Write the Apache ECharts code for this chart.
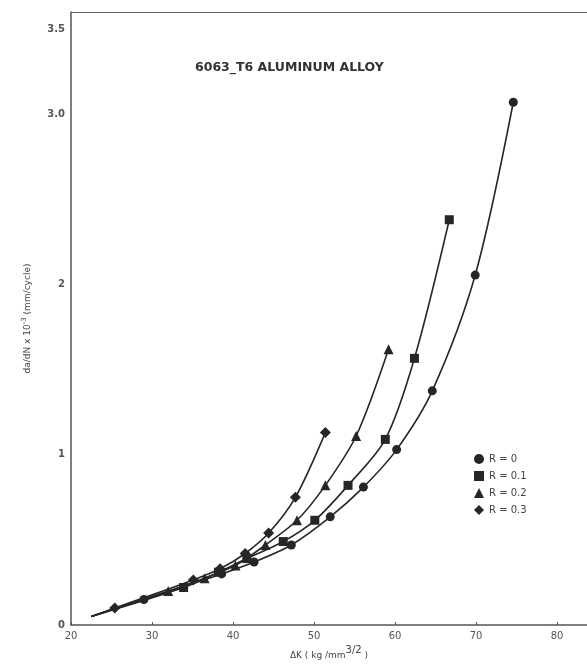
<!DOCTYPE html>
<html>
<head>
<meta charset="utf-8">
<script src="https://cdn.jsdelivr.net/npm/echarts@6/dist/echarts.min.js"></script>
<style>html,body{margin:0;padding:0;background:#fff}#c{width:587px;height:666px}</style>
</head>
<body>
<div id="c"></div>
<script>
// ---- data ----
var seriesNames = ['R = 0', 'R = 0.1', 'R = 0.2', 'R = 0.3'];
var commonStart = [22.5, 0.05];
var r0  = [[29.0,0.15],[38.6,0.30],[42.6,0.37],[47.2,0.47],[52.0,0.635],[56.1,0.81],[60.2,1.03],[64.6,1.375],[69.9,2.055],[74.6,3.07]];
var r01 = [[33.9,0.22],[38.2,0.31],[41.7,0.39],[46.2,0.49],[50.1,0.615],[54.2,0.82],[58.8,1.09],[62.4,1.566],[66.7,2.38]];
var r02 = [[32.0,0.20],[36.5,0.275],[40.3,0.35],[44.0,0.47],[47.9,0.615],[51.4,0.82],[55.2,1.11],[59.2,1.62]];
var r03 = [[25.4,0.10],[35.1,0.265],[38.4,0.33],[41.5,0.42],[44.4,0.54],[47.7,0.75],[51.4,1.13]];
var yTickLabels = {0:'0', 1:'1', 2:'2', 3:'3.0', 3.5:'3.5'};
var titleText = '6063_T6 ALUMINUM ALLOY';

var ink = '#262626';
var symbols = ['circle', 'rect', 'triangle', 'diamond'];
var sizes = [9, 9, 10, 11];
var allData = [r0, r01, r02, r03];

var chart = echarts.init(document.getElementById('c'), null, {renderer: 'canvas'});
var series = allData.map(function (d, i) {
  var pts = [{value: commonStart, symbol: 'none'}].concat(d.map(function (p) { return {value: p}; }));
  return {
    name: seriesNames[i],
    type: 'line',
    data: pts,
    smooth: 0.3,
    symbol: symbols[i],
    symbolSize: sizes[i],
    showAllSymbol: true,
    lineStyle: {color: ink, width: 1.6},
    itemStyle: {color: ink, borderWidth: 0},
    emphasis: {disabled: true},
    animation: false,
    z: 3
  };
});

chart.setOption({
  backgroundColor: '#fff',
  animation: false,
  title: {
    text: titleText,
    left: 190, top: 56,
    textStyle: {fontFamily: 'DejaVu Sans', fontSize: 12.5, fontWeight: 'bold', color: '#333'}
  },
  legend: {
    orient: 'vertical',
    left: 469, top: 449,
    itemWidth: 10, itemHeight: 10, itemGap: 7,
    textStyle: {fontFamily: 'DejaVu Sans', fontSize: 10, color: '#444'},
    data: seriesNames.map(function (n, i) { return {name: n, icon: symbols[i], itemStyle: {color: ink}}; })
  },
  grid: {left: 71, right: 0, top: 12, bottom: 41, containLabel: false},
  xAxis: [{
    type: 'value', min: 20, max: 83.7, interval: 10, position: 'bottom',
    axisLine: {show: true, lineStyle: {color: '#555', width: 1.5}},
    axisTick: {show: true, length: 3, inside: true, lineStyle: {color: '#555'}},
    splitLine: {show: false},
    axisLabel: {
      showMaxLabel: false, margin: 6,
      fontFamily: 'DejaVu Sans', fontSize: 10, color: '#555',
      formatter: function (v) { return (v % 10 === 0) ? String(v) : ''; }
    },
    name: 'ΔK ( kg /mm{sup|3/2} )',
    nameLocation: 'middle', nameGap: 15,
    nameTextStyle: {
      fontFamily: 'DejaVu Sans', fontSize: 9, color: '#444',
      rich: {sup: {fontSize: 10, verticalAlign: 'top', padding: [0, 0, 10, 0], color: '#444'}}
    }
  }, {
    type: 'value', min: 20, max: 83.7, position: 'top',
    axisLine: {show: true, onZero: false, lineStyle: {color: '#666', width: 1.2}},
    axisTick: {show: false}, axisLabel: {show: false}, splitLine: {show: false}
  }],
  yAxis: {
    type: 'value', min: 0, max: 3.6, interval: 0.5,
    axisLine: {show: true, lineStyle: {color: '#555', width: 1.5}},
    axisTick: {show: false},
    splitLine: {show: false},
    axisLabel: {
      showMaxLabel: true, margin: 6,
      fontFamily: 'DejaVu Sans', fontSize: 10, fontWeight: 'bold', color: '#555',
      formatter: function (v) { return yTickLabels.hasOwnProperty(v) ? yTickLabels[v] : ''; }
    },
    name: 'da/dN x 10{sup|-3} (mm/cycle)',
    nameLocation: 'middle', nameRotate: 90, nameGap: 37,
    nameTextStyle: {
      fontFamily: 'DejaVu Sans', fontSize: 9, color: '#444',
      rich: {sup: {fontSize: 7, verticalAlign: 'top', padding: [0, 0, 6, 0], color: '#444'}}
    }
  },
  series: series
});
</script>
</body>
</html>
